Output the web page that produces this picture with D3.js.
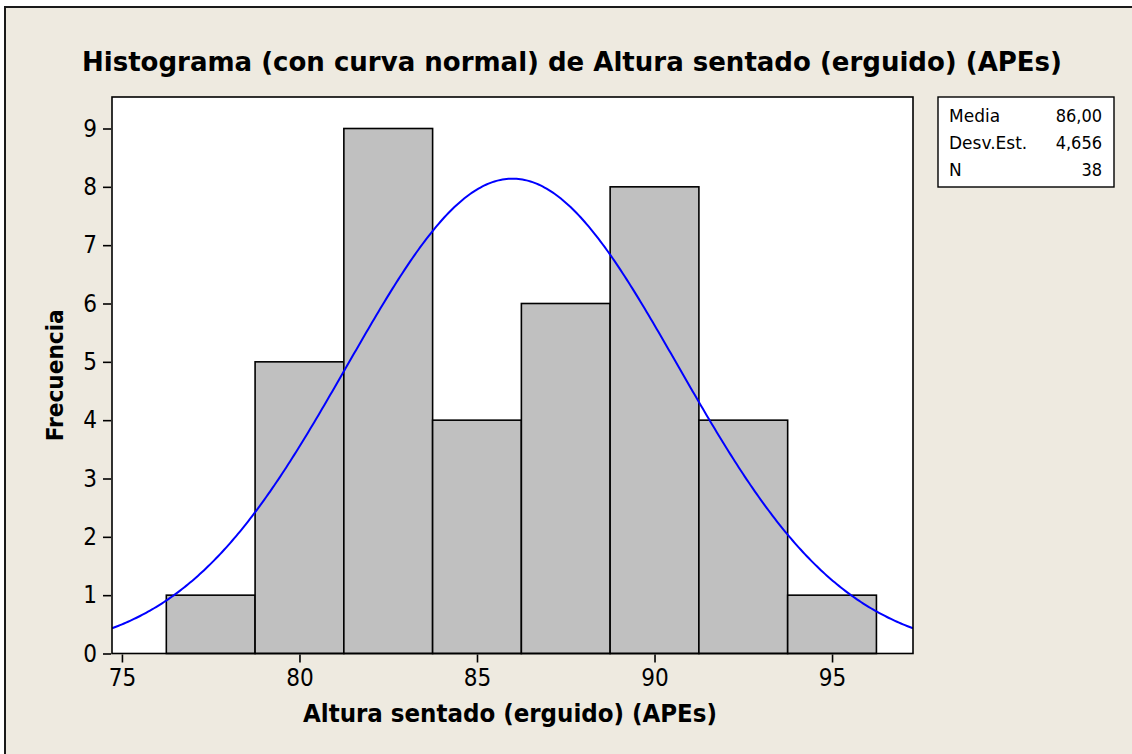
<!DOCTYPE html>
<html>
<head>
<meta charset="utf-8">
<script src="https://cdn.jsdelivr.net/npm/d3@7"></script>
<style>
  html, body { margin: 0; padding: 0; background: #ffffff; }
  svg { display: block; }
  text { font-family: "DejaVu Sans Condensed", "DejaVu Sans", sans-serif; fill: #000; }
</style>
</head>
<body>
<svg id="chart" width="1132" height="754"></svg>
<script>
// Histogram data: lower class limits (width 2.5) and frequencies
const binLower = [76.25, 78.75, 81.25, 83.75, 86.25, 88.75, 91.25, 93.75];
const binUpper = [78.75, 81.25, 83.75, 86.25, 88.75, 91.25, 93.75, 96.25];
const counts   = [1, 5, 9, 4, 6, 8, 4, 1];

// Summary statistics shown in the side box
const statLabels = ["Media", "Desv.Est.", "N"];
const statValues = ["86,00", "4,656", "38"];
const mean = 86.00;
const stdev = 4.656;
const nObs = 38;

// Axis ticks
const xTicks = [75, 80, 85, 90, 95];
const yTicks = [0, 1, 2, 3, 4, 5, 6, 7, 8, 9];

const titleText = "Histograma (con curva normal) de Altura sentado (erguido) (APEs)";
const xTitle = "Altura sentado (erguido) (APEs)";
const yTitle = "Frecuencia";

const svg = d3.select("#chart");
const W = 1132, H = 754;
const plot = { left: 112, top: 97, right: 913, bottom: 653.5 };

// page background and outer frame
svg.append("rect").attr("x", 0).attr("y", 0).attr("width", W).attr("height", H).attr("fill", "#ffffff");
svg.append("rect").attr("x", 5).attr("y", 7).attr("width", W).attr("height", H)
  .attr("fill", "#EEEAE0").attr("stroke", "#1a1a1a").attr("stroke-width", 2);

const x = d3.scaleLinear().domain([74.72, 97.28]).range([plot.left, plot.right]);
const y = d3.scaleLinear().domain([0, 9.54]).range([plot.bottom, plot.top]);

// plot area
svg.append("rect")
  .attr("x", plot.left).attr("y", plot.top)
  .attr("width", plot.right - plot.left).attr("height", plot.bottom - plot.top)
  .attr("fill", "#ffffff");

svg.append("clipPath").attr("id", "plotClip")
  .append("rect")
  .attr("x", plot.left).attr("y", plot.top)
  .attr("width", plot.right - plot.left).attr("height", plot.bottom - plot.top);

// bars
svg.append("g").selectAll("rect")
  .data(counts)
  .join("rect")
  .attr("x", (d, i) => x(binLower[i]))
  .attr("y", d => y(d))
  .attr("width", (d, i) => x(binUpper[i]) - x(binLower[i]))
  .attr("height", d => y(0) - y(d))
  .attr("fill", "#C0C0C0")
  .attr("stroke", "#000")
  .attr("stroke-width", 1.6);

// fitted normal curve scaled to frequency: N * class width * pdf
const classWidth = binUpper[0] - binLower[0];
const [x0, x1] = x.domain();
const curvePts = d3.range(0, 401).map(k => {
  const v = x0 + (x1 - x0) * k / 400;
  const z = (v - mean) / stdev;
  return [v, nObs * classWidth * Math.exp(-0.5 * z * z) / (stdev * Math.sqrt(2 * Math.PI))];
});
svg.append("path")
  .attr("clip-path", "url(#plotClip)")
  .attr("d", d3.line().x(d => x(d[0])).y(d => y(d[1]))(curvePts))
  .attr("fill", "none")
  .attr("stroke", "#0000FF")
  .attr("stroke-width", 2);

// plot border
svg.append("rect")
  .attr("x", plot.left).attr("y", plot.top)
  .attr("width", plot.right - plot.left).attr("height", plot.bottom - plot.top)
  .attr("fill", "none").attr("stroke", "#000").attr("stroke-width", 1.6);

// axes
const xAxis = svg.append("g")
  .attr("transform", `translate(0,${plot.bottom + 1})`)
  .call(d3.axisBottom(x).tickValues(xTicks).tickSize(8).tickPadding(6).tickFormat(d3.format("d")));
const yAxis = svg.append("g")
  .attr("transform", `translate(${plot.left - 1},0)`)
  .call(d3.axisLeft(y).tickValues(yTicks).tickSize(8).tickPadding(6).tickFormat(d3.format("d")));
[xAxis, yAxis].forEach(g => {
  g.select(".domain").remove();
  g.selectAll(".tick line").attr("stroke", "#000").attr("stroke-width", 1.6);
  g.selectAll(".tick text")
    .style("font-family", "'DejaVu Sans Condensed', 'DejaVu Sans', sans-serif")
    .attr("font-size", 24).attr("fill", "#000");
});

// title
svg.append("text")
  .attr("x", 572).attr("y", 71)
  .attr("text-anchor", "middle")
  .attr("font-size", 26).attr("font-weight", "bold")
  .attr("textLength", 980).attr("lengthAdjust", "spacingAndGlyphs")
  .text(titleText);

// axis titles
svg.append("text")
  .attr("x", 510).attr("y", 722)
  .attr("text-anchor", "middle")
  .attr("font-size", 24).attr("font-weight", "bold")
  .attr("textLength", 414).attr("lengthAdjust", "spacingAndGlyphs")
  .text(xTitle);

svg.append("text")
  .attr("transform", `translate(63,${(plot.top + plot.bottom) / 2}) rotate(-90)`)
  .attr("text-anchor", "middle")
  .attr("font-size", 23).attr("font-weight", "bold")
  .attr("textLength", 132).attr("lengthAdjust", "spacingAndGlyphs")
  .text(yTitle);

// statistics box
const box = svg.append("g");
box.append("rect")
  .attr("x", 938).attr("y", 97).attr("width", 176).attr("height", 90)
  .attr("fill", "#ffffff").attr("stroke", "#000").attr("stroke-width", 1.4);
box.selectAll("text.lab")
  .data(statLabels)
  .join("text")
  .attr("class", "lab")
  .attr("x", 949)
  .attr("y", (d, i) => 121.5 + i * 27)
  .style("font-family", "'DejaVu Sans', sans-serif")
  .attr("font-size", 17)
  .text(d => d);
box.selectAll("text.val")
  .data(statValues)
  .join("text")
  .attr("class", "val")
  .attr("x", 1102)
  .attr("y", (d, i) => 121.5 + i * 27)
  .attr("text-anchor", "end")
  .attr("font-size", 18)
  .text(d => d);
</script>
</body>
</html>
